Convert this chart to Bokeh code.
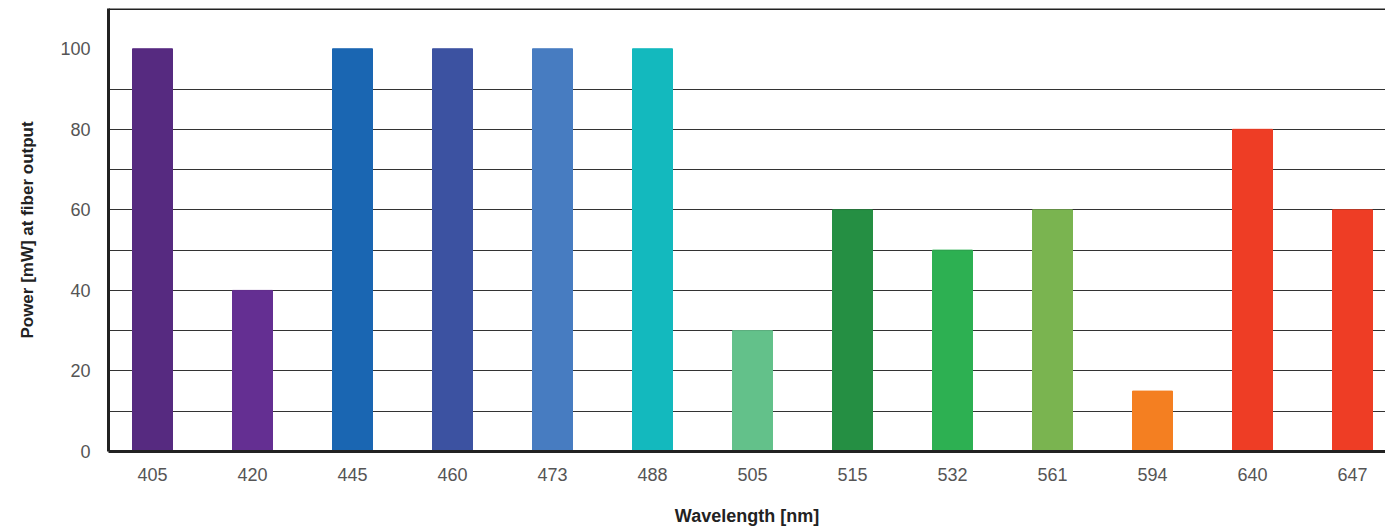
from bokeh.plotting import figure
from bokeh.models import ColumnDataSource, FixedTicker, Span
from bokeh.embed import file_html
from bokeh.resources import INLINE

wavelengths = ["405", "420", "445", "460", "473", "488", "505", "515", "532", "561", "594", "640", "647"]
power_mw = [100, 40, 100, 100, 100, 100, 30, 60, 50, 60, 15, 80, 60]
bar_colors = ["#562a80", "#642f92", "#1a66b2", "#3c52a1", "#477cc1", "#13b9be", "#63c18a",
              "#258f43", "#2db052", "#7ab450", "#f47f21", "#ee3d25", "#ee3d25"]
y_ticks = [0, 20, 40, 60, 80, 100]
y_grid = [10, 20, 30, 40, 50, 60, 70, 80, 90]

xpos = list(range(len(wavelengths)))
src = ColumnDataSource(dict(x=xpos, top=power_mw, color=bar_colors))

p = figure(width=1385, height=529, output_backend="svg", toolbar_location=None,
           x_range=(-0.44, len(wavelengths) - 1 + 0.33), y_range=(0, 110),
           min_border_left=108, min_border_right=0, min_border_top=8, min_border_bottom=78)

p.vbar(x="x", top="top", bottom=0, width=0.4, color="color", source=src)

p.outline_line_color = None
p.background_fill_color = "white"
p.border_fill_color = "white"

p.xgrid.visible = False
p.ygrid.ticker = FixedTicker(ticks=y_grid)
p.ygrid.grid_line_color = "#333333"
p.ygrid.grid_line_width = 1
p.ygrid.level = "underlay"

top_line = Span(location=110, dimension="width", line_color="#222222", line_width=3)
p.add_layout(top_line)

font = "Liberation Sans"

p.xaxis.ticker = FixedTicker(ticks=xpos)
p.xaxis.major_label_overrides = {i: w for i, w in zip(xpos, wavelengths)}
p.yaxis.ticker = FixedTicker(ticks=y_ticks)

for ax in (p.xaxis[0], p.yaxis[0]):
    ax.axis_line_color = "#222222"
    ax.axis_line_width = 3
    ax.major_tick_line_color = None
    ax.minor_tick_line_color = None
    ax.major_label_text_font = font
    ax.major_label_text_font_size = "18px"
    ax.major_label_text_color = "#555555"
    ax.axis_label_text_font = font
    ax.axis_label_text_font_style = "bold"
    ax.axis_label_text_color = "#222222"

p.xaxis.axis_label = "Wavelength [nm]"
p.yaxis.axis_label = "Power [mW] at fiber output"
p.xaxis.axis_label_text_font_size = "18px"
p.yaxis.axis_label_text_font_size = "17px"
p.xaxis.major_label_standoff = 10
p.yaxis.major_label_standoff = 12
p.xaxis.axis_label_standoff = 22
p.yaxis.axis_label_standoff = 20

open("out.html", "w").write(file_html(p, INLINE))
